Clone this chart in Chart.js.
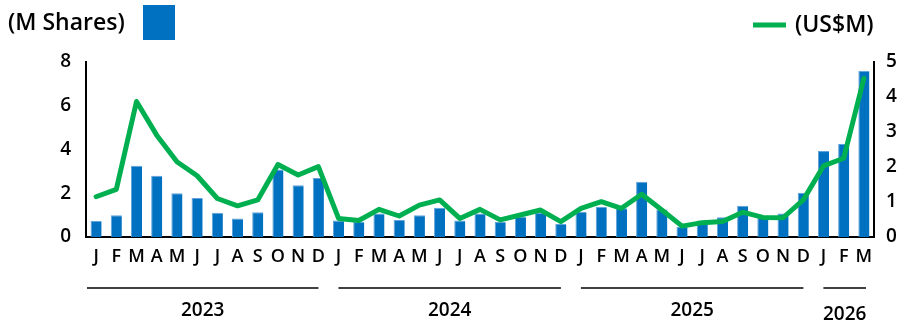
<!DOCTYPE html>
<html>
<head>
<meta charset="utf-8">
<script src="https://cdn.jsdelivr.net/npm/chart.js@4"></script>
<style>
  html, body { margin: 0; padding: 0; background: #fff; }
  #wrap { width: 906px; height: 320px; position: relative; }
</style>
</head>
<body>
<div id="wrap"><canvas id="myChart" width="906" height="320"></canvas></div>
<script>
const months = [
  "J","F","M","A","M","J","J","A","S","O","N","D",
  "J","F","M","A","M","J","J","A","S","O","N","D",
  "J","F","M","A","M","J","J","A","S","O","N","D",
  "J","F","M"
];
const years = ["2023", "2024", "2025", "2026"];
const yearStart = [0, 12, 24, 36];
const yearEnd = [11, 23, 35, 38];

const shares = [
  0.73, 0.99, 3.26, 2.80, 2.00, 1.78, 1.11, 0.85, 1.13, 3.09, 2.37, 2.70,
  0.75, 0.70, 1.08, 0.78, 0.99, 1.34, 0.75, 1.08, 0.70, 0.93, 1.11, 0.60,
  1.16, 1.38, 1.31, 2.53, 1.26, 0.47, 0.75, 0.90, 1.43, 0.93, 1.08, 2.02,
  3.93, 4.25, 7.60
];
const usd = [
  1.15, 1.36, 3.87, 2.91, 2.15, 1.75, 1.10, 0.89, 1.06, 2.07, 1.77, 2.01,
  0.53, 0.47, 0.79, 0.60, 0.91, 1.06, 0.53, 0.79, 0.49, 0.63, 0.77, 0.44,
  0.82, 1.01, 0.82, 1.22, 0.77, 0.31, 0.41, 0.44, 0.71, 0.56, 0.55, 1.06,
  2.03, 2.25, 4.53
];
const leftTicks = [0, 2, 4, 6, 8];
const rightTicks = [0, 1, 2, 3, 4, 5];

const barColor = "#0070C0";
const lineColor = "#00B050";
const fontFamily = "'Open Sans', 'Noto Sans', sans-serif";

// legend at top + year bands under the month letters
const extras = {
  id: "extras",
  afterDraw(chart) {
    const ctx = chart.ctx;
    const x = chart.scales.x;
    ctx.save();
    ctx.fillStyle = "#000";
    ctx.font = "600 23px " + fontFamily;
    ctx.textBaseline = "middle";
    ctx.textAlign = "left";
    ctx.fillText("(M Shares)", 8, 23);
    ctx.fillStyle = barColor;
    ctx.fillRect(143, 5, 32, 35);

    ctx.strokeStyle = lineColor;
    ctx.lineWidth = 5;
    ctx.beginPath();
    ctx.moveTo(753, 25);
    ctx.lineTo(786, 25);
    ctx.stroke();
    ctx.fillStyle = "#000";
    ctx.fillText("(US$M)", 795, 25);

    const half = (x.getPixelForValue(1) - x.getPixelForValue(0)) / 2;
    ctx.lineWidth = 1.5;
    ctx.strokeStyle = "#000";
    ctx.font = "600 19px " + fontFamily;
    ctx.textAlign = "center";
    years.forEach((y, i) => {
      const x0 = x.getPixelForValue(yearStart[i]) - half + (i === 0 ? 1 : 10);
      const x1 = x.getPixelForValue(yearEnd[i]) + half - (i === 3 ? 8 : 10);
      ctx.beginPath();
      ctx.moveTo(x0, 288);
      ctx.lineTo(x1, 288);
      ctx.stroke();
      ctx.fillText(y, (x0 + x1) / 2, i === 3 ? 315 : 311);
    });
    ctx.restore();
  }
};

new Chart("myChart", {
  data: {
    labels: months,
    datasets: [
      {
        type: "line",
        label: "(US$M)",
        data: usd,
        yAxisID: "y1",
        borderColor: lineColor,
        borderWidth: 5,
        pointRadius: 0,
        tension: 0,
        borderJoinStyle: "round",
        borderCapStyle: "round",
        order: 0
      },
      {
        type: "bar",
        label: "(M Shares)",
        data: shares,
        yAxisID: "y",
        backgroundColor: barColor,
        borderColor: "#5fa3da",
        borderWidth: { left: 1, top: 1, right: 0, bottom: 0 },
        barPercentage: 0.55,
        categoryPercentage: 1,
        order: 1
      }
    ]
  },
  options: {
    responsive: false,
    animation: false,
    layout: { padding: { top: 62, left: 0, right: 0, bottom: 0 } },
    plugins: { legend: { display: false }, tooltip: { enabled: false } },
    scales: {
      x: {
        grid: { display: false, drawTicks: false },
        border: { color: "#000", width: 2 },
        ticks: {
          color: "#000",
          font: { size: 18, weight: 600, family: fontFamily },
          padding: 9,
          maxRotation: 0,
          autoSkip: false
        },
        afterFit(scale) { scale.height = 83; }
      },
      y: {
        position: "left",
        min: 0,
        max: 8,
        grid: { display: false, drawTicks: false },
        border: { color: "#000", width: 2 },
        afterBuildTicks(scale) { scale.ticks = leftTicks.map(v => ({ value: v })); },
        ticks: {
          color: "#000",
          font: { size: 19, weight: 600, family: fontFamily },
          padding: 15
        },
        afterFit(scale) { scale.width = 86; }
      },
      y1: {
        position: "right",
        min: 0,
        max: 5,
        grid: { display: false, drawTicks: false },
        border: { color: "#000", width: 2 },
        afterBuildTicks(scale) { scale.ticks = rightTicks.map(v => ({ value: v })); },
        ticks: {
          color: "#000",
          font: { size: 19, weight: 600, family: fontFamily },
          padding: 12
        },
        afterFit(scale) { scale.width = 32; }
      }
    }
  },
  plugins: [extras]
});
</script>
</body>
</html>
